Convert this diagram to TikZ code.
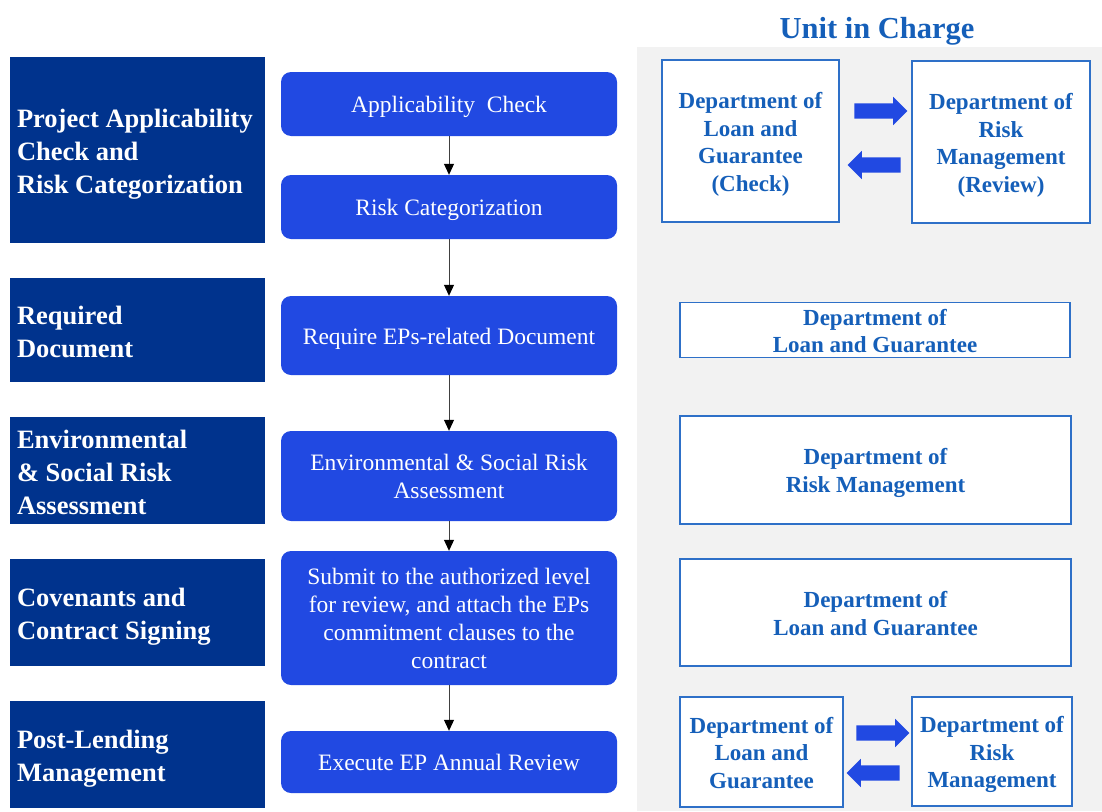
\documentclass[tikz,border=0pt]{standalone}
\usepackage{fontspec}
\setmainfont{Liberation Serif}
\usetikzlibrary{shapes.arrows,arrows.meta}
\definecolor{stagenavy}{RGB}{0,51,141}
\definecolor{stepblue}{RGB}{33,73,226}
\definecolor{unitblue}{RGB}{21,95,185}
\definecolor{unitline}{RGB}{46,112,200}
\definecolor{panelgray}{RGB}{242,242,242}

\begin{document}
\begin{tikzpicture}[x=1pt,y=-1pt,
		stage/.style={fill=stagenavy, text=white, font=\fontsize{26.5}{33}\selectfont\bfseries,
			inner xsep=7pt, inner ysep=0pt, text width=241pt, align=flush left,
			execute at begin node={\rule{0pt}{27.3pt}}, execute at end node={\rule[-5.7pt]{0pt}{5.7pt}}},
		stepbox/.style={fill=stepblue, text=white, rounded corners=10pt, font=\fontsize{23.5}{28}\selectfont,
			minimum width=336pt, inner sep=0pt, text width=320pt, align=flush center,
			execute at begin node={\rule{0pt}{22.9pt}}, execute at end node={\rule[-5.1pt]{0pt}{5.1pt}}},
		unit/.style={draw=unitline, line width=1.5pt, fill=white, text=unitblue,
			font=\fontsize{23}{27.5}\selectfont\bfseries, inner sep=0pt, text width=150pt, align=flush center,
			execute at begin node={\rule{0pt}{22.5pt}}, execute at end node={\rule[-5pt]{0pt}{5pt}}},
		flow/.style={draw=black!75, line width=1pt, -{Triangle[length=11pt,width=10pt,black]}},
		swap/.style={single arrow, fill=stepblue, minimum height=53pt, minimum width=28pt,
			single arrow head extend=6.5pt, inner xsep=0pt, inner ysep=7.5pt}]
		\useasboundingbox (0,0) rectangle (1102,811);
		% Draw panel of units.
		\fill[panelgray] (637,47) rectangle (1102,811);
		\node[text=unitblue, font=\fontsize{30.5}{34}\selectfont\bfseries] (title) at (877,31) {Unit in Charge};
		
		% Draw stages.
		\node[stage, minimum height=186pt] (s1) at (137.5,150) {Project Applicability\\Check and\\Risk Categorization};
		\node[stage, minimum height=104pt] (s2) at (137.5,330) {Required\\Document};
		\node[stage, minimum height=107pt] (s3) at (137.5,470.5) {Environmental\\\& Social Risk\\Assessment};
		\node[stage, minimum height=107pt] (s4) at (137.5,612.5) {Covenants and\\Contract Signing};
		\node[stage, minimum height=107pt] (s5) at (137.5,754.5) {Post-Lending\\Management};
		
		% Draw steps.
		\node[stepbox, minimum height=64pt] (p1) at (449,104) {Applicability~ Check};
		\node[stepbox, minimum height=64pt] (p2) at (449,207) {Risk Categorization};
		\node[stepbox, minimum height=79pt] (p3) at (449,335.5) {Require EPs-related Document};
		\node[stepbox, minimum height=90pt] (p4) at (449,476) {Environmental \& Social Risk\\Assessment};
		\node[stepbox, minimum height=134pt] (p5) at (449,618) {Submit to the authorized level\\for review, and attach the EPs\\commitment clauses to the\\contract};
		\node[stepbox, minimum height=62pt] (p6) at (449,762) {Execute EP Annual Review};
		\foreach \a/\b in {p1/p2,p2/p3,p3/p4,p4/p5,p5/p6}
			\draw[flow] (\a) -- (\b);
		
		% Draw units in charge.
		\node[unit, minimum width=177pt, minimum height=162pt] (u1a) at (750.5,141) {Department of\\Loan and\\Guarantee\\(Check)};
		\node[unit, minimum width=178pt, minimum height=162pt] (u1b) at (1001,142) {Department of\\Risk\\Management\\(Review)};
		\node[swap] (r1) at (877,111) {};
		\node[swap, shape border rotate=180] (l1) at (878,165) {};
		\node[unit, text width=220pt, minimum width=390pt, minimum height=54pt] (u2) at (875,330) {Department of\\Loan and Guarantee};
		\node[unit, text width=220pt, minimum width=391pt, minimum height=108pt] (u3) at (875.5,470) {Department of\\Risk Management};
		\node[unit, text width=220pt, minimum width=391pt, minimum height=107pt] (u4) at (875.5,612.5) {Department of\\Loan and Guarantee};
		\node[unit, minimum width=163pt, minimum height=110pt] (u5a) at (761.5,752) {Department of\\Loan and\\Guarantee};
		\node[unit, minimum width=160pt, minimum height=109pt] (u5b) at (992,751.5) {Department of\\Risk\\Management};
		\node[swap] (r5) at (879,733) {};
		\node[swap, shape border rotate=180] (l5) at (877,773) {};
	\end{tikzpicture}
\end{document}
